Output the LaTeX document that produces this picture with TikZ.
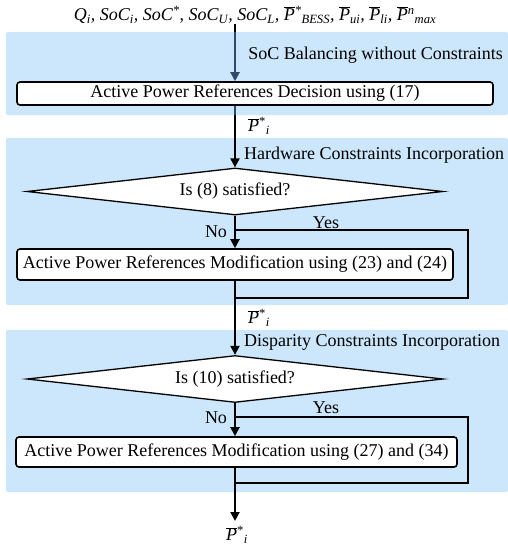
\documentclass[tikz,border=0pt]{standalone}
\usepackage{fontspec}
\setmainfont{Liberation Serif}
\usetikzlibrary{arrows.meta,shapes.geometric}
\definecolor{panelblue}{RGB}{204,231,251}
\definecolor{darkln}{RGB}{47,74,102}
\newcommand{\Pbar}{\ensuremath{\overline{\hbox{\itshape P}}}}
\newcommand{\Pstar}{\Pbar\textsuperscript{*}\textsubscript{\itshape i}}
\begin{document}
\begin{tikzpicture}[x=1pt,y=-1pt,
  every node/.style={font=\fontsize{18}{20}\selectfont},
  panel/.style={fill=panelblue,draw=none,rounded corners=2pt,inner sep=0pt},
  box/.style={draw,line width=1.6pt,fill=white,rounded corners=3pt,inner sep=0pt},
  dec/.style={diamond,draw,line width=1.3pt,fill=white,inner sep=0pt,shape aspect=8.85,minimum width=416pt,minimum height=47pt},
  flow/.style={line width=2pt},
  arr/.style={line width=2pt,-{Triangle[length=9pt,width=9pt]}},
  loop/.style={line width=1.6pt},
  lbl/.style={inner sep=0pt}]
\useasboundingbox (0,0) rectangle (508,550);
% panels
\node[panel,minimum width=502pt,minimum height=83pt] (p1) at (257,73.5) {};
\node[panel,minimum width=502pt,minimum height=167pt] (p2) at (257,221.5) {};
\node[panel,minimum width=502pt,minimum height=162pt] (p3) at (257,411) {};
% panel titles
\node[lbl,anchor=east] (t1) at (503,55) {SoC Balancing without Constraints};
\node[lbl,anchor=west] (t2) at (244,155) {Hardware Constraints Incorporation};
\node[lbl,anchor=west] (t3) at (244,342) {Disparity Constraints Incorporation};
% inputs
\node[lbl] (in) at (255,15) {\itshape Q\textsubscript{i}, SoC\textsubscript{i}, SoC\textsuperscript{*}, SoC\textsubscript{U}, SoC\textsubscript{L}, \Pbar\textsuperscript{*}\textsubscript{BESS}, \Pbar\textsubscript{ui}, \Pbar\textsubscript{li}, \Pbar\textsuperscript{n}\textsubscript{max}};
% blocks
\node[box,minimum width=476pt,minimum height=23pt] (b1) at (255,93.5) {Active Power References Decision using (17)\hspace{16pt}};
\node[dec] (d1) at (235,191.5) {Is (8) satisfied?};
\node[box,minimum width=436pt,minimum height=31pt] (b2) at (235,264.5) {Active Power References Modification using (23) and (24)};
\node[dec] (d2) at (235,379) {Is (10) satisfied?};
\node[box,minimum width=441pt,minimum height=30pt] (b3) at (236.5,452) {Active Power References Modification using (27) and (34)};
\node[lbl] (out) at (237,535) {\Pstar};
% coordinates on the main line
\coordinate (y1) at (235,230);
\coordinate (m1) at (235,298);
\coordinate (y2) at (235,417);
\coordinate (m2) at (235,483);
\coordinate (o1) at (235,521);
% connectors
\draw[flow] (in.south -| d1) -- (p1.north -| d1);
\draw[arr,draw=darkln,fill=darkln] (p1.north -| d1) -- (b1.north -| d1);
\draw[flow,darkln] (b1.south -| d1) -- (p1.south -| d1);
\draw[arr] (p1.south -| d1) -- (d1.north);
\draw[arr] (d1.south) -- (b2.north -| d1);
\draw[loop] (y1) -- ++(233,0) |- (m1);
\draw[arr] (b2.south -| d1) -- (d2.north);
\draw[arr] (d2.south) -- (b3.north -| d2);
\draw[loop] (y2) -- ++(233,0) |- (m2);
\draw[arr] (b3.south -| d2) -- (o1);
% labels
\node[lbl,anchor=west] (l1) at (248,126) {\Pstar};
\node[lbl,anchor=west] (l2) at (248,318) {\Pstar};
\node[lbl] (no1) at (216,232) {No};
\node[lbl] (yes1) at (326,223) {Yes};
\node[lbl] (no2) at (216,418) {No};
\node[lbl] (yes2) at (326,408) {Yes};
\end{tikzpicture}
\end{document}
